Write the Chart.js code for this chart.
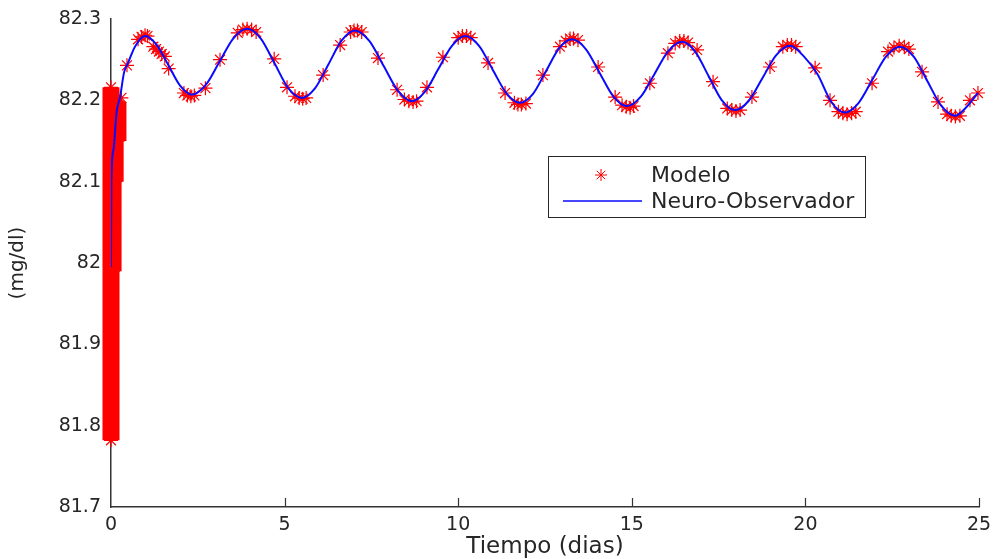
<!DOCTYPE html>
<html>
<head>
<meta charset="utf-8">
<title>Modelo vs Neuro-Observador</title>
<style>
  html, body { margin: 0; padding: 0; background: #ffffff; }
  canvas { display: block; }
</style>
<script src="https://cdn.jsdelivr.net/npm/chart.js@4.4.1/dist/chart.umd.min.js"></script>
</head>
<body>
<canvas id="grafica" width="993" height="559"></canvas>
<script>
// Ejes
const diasTicks = [0, 5, 10, 15, 20, 25];
const glucosaTicks = [81.7, 81.8, 81.9, 82, 82.1, 82.2, 82.3];
const glucosaTickLabels = ['81.7', '81.8', '81.9', '82', '82.1', '82.2', '82.3'];

// Modelo: envolvente de la oscilación rápida del arranque (mínimo y máximo por instante)
const arranqueDias = [0.00, 0.06, 0.12, 0.20];
const arranqueMin = [81.782, 81.990, 82.100, 82.150];
const arranqueMax = [82.216, 82.205, 82.200, 82.198];

// Modelo: muestras posteriores
const modeloDias = [0.30, 0.46, 0.78, 0.88, 0.98, 1.05, 1.22, 1.30, 1.38, 1.46, 1.55, 1.66, 2.10, 2.20, 2.30, 2.40,
  2.72, 3.14, 3.65, 3.80, 3.92, 4.05, 4.18, 4.70, 5.07, 5.30, 5.42, 5.52, 5.62, 6.11, 6.60, 6.90, 7.00, 7.10, 7.22,
  7.69, 8.24, 8.45, 8.58, 8.70, 8.80, 9.10, 9.56, 10.00, 10.12, 10.24, 10.36, 10.86, 11.35, 11.62, 11.72, 11.82, 11.95,
  12.44, 12.93, 13.10, 13.22, 13.32, 13.45, 14.03, 14.52, 14.72, 14.84, 14.95, 15.05, 15.52, 16.04, 16.25, 16.38,
  16.50, 16.62, 16.88, 17.34, 17.75, 17.88, 18.00, 18.12, 18.46, 18.98, 19.35, 19.48, 19.60, 19.72, 20.28, 20.71,
  20.95, 21.08, 21.20, 21.33, 21.45, 21.92, 22.38, 22.55, 22.70, 22.85, 22.98, 23.36, 23.82, 24.08, 24.20, 24.32,
  24.45, 24.74, 24.97];
const modeloGlucosa = [82.203, 82.243, 82.275, 82.278, 82.280, 82.279, 82.266, 82.263, 82.260, 82.257, 82.254, 82.239,
  82.209, 82.206, 82.205, 82.206, 82.215, 82.250, 82.283, 82.287, 82.288, 82.287, 82.284, 82.251, 82.216, 82.205,
  82.203, 82.202, 82.203, 82.231, 82.268, 82.284, 82.286, 82.286, 82.284, 82.252, 82.213, 82.201, 82.199, 82.198,
  82.199, 82.216, 82.253, 82.277, 82.279, 82.279, 82.277, 82.246, 82.209, 82.197, 82.195, 82.195, 82.196, 82.231,
  82.266, 82.273, 82.276, 82.276, 82.274, 82.241, 82.204, 82.194, 82.192, 82.191, 82.193, 82.221, 82.258, 82.270,
  82.273, 82.273, 82.271, 82.262, 82.223, 82.190, 82.188, 82.187, 82.188, 82.204, 82.241, 82.266, 82.268, 82.268,
  82.266, 82.240, 82.200, 82.186, 82.184, 82.183, 82.184, 82.186, 82.221, 82.260, 82.265, 82.267, 82.266, 82.263,
  82.235, 82.198, 82.183, 82.181, 82.180, 82.181, 82.200, 82.209];

// Neuro-Observador
const neuroDias = [0, 0.01, 0.07, 0.16, 0.26, 0.38, 0.49, 0.69, 0.98, 1.32, 1.655, 1.99, 2.33, 2.73, 3.125, 3.52,
  3.92, 4.315, 4.71, 5.105, 5.50, 5.88, 6.265, 6.65, 7.03, 7.44, 7.85, 8.26, 8.67, 9.05, 9.435, 9.82, 10.20, 10.60,
  10.99, 11.385, 11.78, 12.155, 12.53, 12.905, 13.28, 13.675, 14.07, 14.465, 14.86, 15.26, 15.655, 16.05, 16.45,
  16.83, 17.21, 17.59, 17.97, 18.37, 18.765, 19.16, 19.56, 19.955, 20.35, 20.745, 21.14, 21.535, 21.93, 22.325,
  22.72, 23.12, 23.515, 23.91, 24.31, 24.60, 24.97];
const neuroGlucosa = [81.995, 82.100, 82.139, 82.185, 82.204, 82.235, 82.246, 82.266, 82.279, 82.268, 82.243, 82.218,
  82.207, 82.219, 82.2475, 82.276, 82.288, 82.276, 82.2455, 82.215, 82.203, 82.215, 82.2445, 82.274, 82.286, 82.273,
  82.2425, 82.212, 82.199, 82.211, 82.239, 82.267, 82.279, 82.267, 82.238, 82.209, 82.197, 82.208, 82.236, 82.264,
  82.275, 82.263, 82.234, 82.205, 82.193, 82.2045, 82.2325, 82.2605, 82.272, 82.2597, 82.230, 82.2003, 82.188,
  82.1995, 82.2275, 82.2555, 82.267, 82.254, 82.232, 82.198, 82.185, 82.197, 82.2255, 82.254, 82.266, 82.2536,
  82.2235, 82.1934, 82.181, 82.190, 82.209];

const pares = (xs, ys) => xs.map((x, i) => ({ x, y: ys[i] }));

const ROJO = '#ff0000';
const AZUL = '#0a0aff';
const TEXTO = '#262626';
const FUENTE = '"DejaVu Sans", "Liberation Sans", Arial, sans-serif';

// Una columna por instante del arranque: recorre la oscilación de su mínimo a su máximo
const columnasArranque = arranqueDias.map((d, i) => ({
  label: 'Modelo',
  data: [{ x: d, y: arranqueMin[i] }, { x: d, y: arranqueMax[i] }],
  borderColor: ROJO,
  borderWidth: 17,
  borderCapStyle: 'butt',
  tension: 0,
  pointStyle: 'star',
  pointRadius: 7,
  pointBorderWidth: 1.2,
  pointBorderColor: ROJO,
  pointBackgroundColor: ROJO,
  clip: false,
  order: 2
}));

// Marcas de graduación hacia dentro del eje X
const marcasInteriores = {
  id: 'marcasInteriores',
  afterDatasetsDraw(chart) {
    const { ctx, chartArea: ca } = chart;
    const sx = chart.scales.x;
    ctx.save();
    ctx.strokeStyle = '#333333';
    ctx.lineWidth = 1.2;
    diasTicks.forEach(v => {
      if (v === 0) return;
      const px = Math.round(sx.getPixelForValue(v)) + 0.5;
      ctx.beginPath();
      ctx.moveTo(px, ca.bottom);
      ctx.lineTo(px, ca.bottom - 9);
      ctx.stroke();
    });
    ctx.restore();
  }
};

// Leyenda con marco dentro del área de trazado
const cuadroLeyenda = {
  id: 'cuadroLeyenda',
  afterDraw(chart) {
    const { ctx, chartArea: ca } = chart;
    const ds = chart.data.datasets;
    const bx = ca.left + 437, by = ca.top + 137, bw = 317, bh = 61;
    ctx.save();
    ctx.fillStyle = '#ffffff';
    ctx.fillRect(bx, by, bw, bh);
    ctx.strokeStyle = TEXTO;
    ctx.lineWidth = 1;
    ctx.strokeRect(bx + 0.5, by + 0.5, bw, bh);

    ctx.strokeStyle = ROJO;
    ctx.fillStyle = ROJO;
    Chart.helpers.drawPoint(ctx, { pointStyle: 'star', radius: 6, borderWidth: 1.2, rotation: 0 }, bx + 53, by + 19);

    ctx.strokeStyle = AZUL;
    ctx.lineWidth = 1.6;
    ctx.beginPath();
    ctx.moveTo(bx + 15, by + 45);
    ctx.lineTo(bx + 94, by + 45);
    ctx.stroke();

    ctx.fillStyle = TEXTO;
    ctx.font = '22px ' + FUENTE;
    ctx.textBaseline = 'alphabetic';
    ctx.textAlign = 'left';
    ctx.fillText(ds[1].label, bx + 103, by + 26);
    ctx.fillText(ds[0].label, bx + 103, by + 52);
    ctx.restore();
  }
};

new Chart(document.getElementById('grafica'), {
  type: 'line',
  data: {
    datasets: [
      {
        label: 'Neuro-Observador',
        data: pares(neuroDias, neuroGlucosa),
        borderColor: AZUL,
        borderWidth: 2,
        pointRadius: 0,
        cubicInterpolationMode: 'monotone',
        fill: false,
        order: 0
      },
      {
        label: 'Modelo',
        data: pares(modeloDias, modeloGlucosa),
        showLine: false,
        pointStyle: 'star',
        pointRadius: 7,
        pointBorderWidth: 1.2,
        pointBorderColor: ROJO,
        pointBackgroundColor: ROJO,
        clip: false,
        order: 1
      },
      ...columnasArranque
    ]
  },
  options: {
    responsive: false,
    animation: false,
    devicePixelRatio: 1,
    layout: { padding: { top: 19, right: 14, left: 0, bottom: 0 } },
    plugins: {
      legend: { display: false },
      tooltip: { enabled: false }
    },
    scales: {
      x: {
        type: 'linear',
        min: 0,
        max: 25,
        afterBuildTicks: s => { s.ticks = diasTicks.map(v => ({ value: v })); },
        afterFit: s => { s.height = 52; s.paddingLeft = 0; s.paddingRight = 0; },
        grid: { display: true, drawOnChartArea: false, drawTicks: false },
        border: { display: true, color: '#333333', width: 1.5 },
        ticks: {
          color: TEXTO,
          padding: 7,
          maxRotation: 0,
          font: { family: FUENTE, size: 19 },
          callback: v => String(v)
        },
        title: {
          display: true,
          text: 'Tiempo (dias)',
          color: TEXTO,
          padding: { top: 0, bottom: 0 },
          font: { family: FUENTE, size: 23, lineHeight: 1 }
        }
      },
      y: {
        type: 'linear',
        min: 81.7,
        max: 82.3,
        afterBuildTicks: s => { s.ticks = glucosaTicks.map(v => ({ value: v })); },
        afterFit: s => { s.width = 111; s.paddingTop = 0; s.paddingBottom = 0; },
        grid: { display: true, drawOnChartArea: false, drawTicks: false },
        border: { display: true, color: '#333333', width: 1.5 },
        ticks: {
          color: TEXTO,
          padding: 10,
          font: { family: FUENTE, size: 19 },
          callback: v => {
            const i = glucosaTicks.findIndex(t => Math.abs(t - v) < 1e-6);
            return i >= 0 ? glucosaTickLabels[i] : '';
          }
        },
        title: {
          display: true,
          text: '(mg/dl)',
          color: TEXTO,
          padding: { top: 8, bottom: 0 },
          font: { family: FUENTE, size: 20, lineHeight: 1 }
        }
      }
    }
  },
  plugins: [marcasInteriores, cuadroLeyenda]
});
</script>
</body>
</html>
